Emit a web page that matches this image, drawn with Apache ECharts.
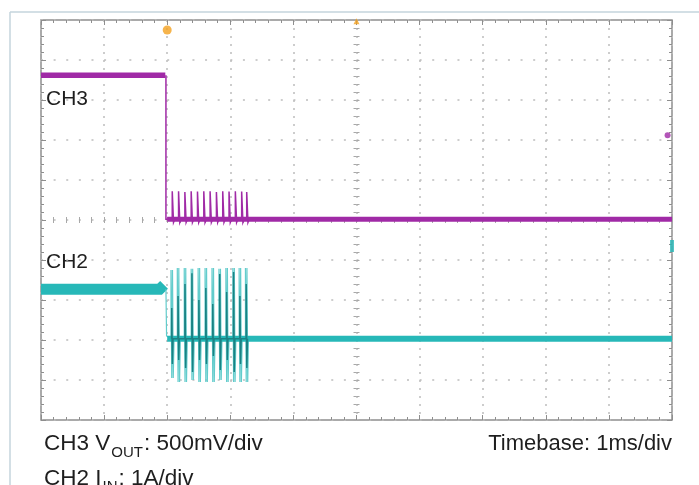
<!DOCTYPE html>
<html><head><meta charset="utf-8">
<script src="https://cdn.jsdelivr.net/npm/echarts@6/dist/echarts.min.js"></script>
<style>html,body{margin:0;padding:0;background:#fff}#c{width:699px;height:485px}</style>
</head><body><div id="c"></div>
<script>
// Time in ms (1 ms/div), amplitude in screen divisions (10 x 10 graticule)
const ch3PreT = [-5, -3.03];
const ch3PreV = [3.62, 3.62];
const ch3PostT = [-3.0, 5];
const ch3PostV = [0.02, 0.02];
const ch3DropT = -3.02;
const ch3SpikeT = [-2.92, -2.82, -2.72, -2.62, -2.52, -2.42, -2.32, -2.22, -2.12, -2.02, -1.92, -1.82, -1.74];
const ch3SpikeV = [0.72, 0.72, 0.70, 0.72, 0.71, 0.72, 0.72, 0.70, 0.72, 0.71, 0.72, 0.71, 0.70];

const ch2PreT = [-5, -3.12, -3.05];
const ch2PreV = [-1.73, -1.73, -1.62];
const ch2PostT = [-3.0, 5];
const ch2PostV = [-2.97, -2.97];
const ch2SpikeT = [-2.94, -2.84, -2.73, -2.62, -2.51, -2.40, -2.29, -2.18, -2.07, -1.96, -1.86, -1.76];
const ch2SpikeHi = [-1.25, -1.2, -1.2, -1.22, -1.2, -1.2, -1.2, -1.22, -1.2, -1.2, -1.2, -1.2];
const ch2SpikeLo = [-3.95, -4.05, -4.05, -4.0, -4.05, -4.05, -4.05, -4.0, -4.05, -4.05, -4.05, -4.05];
const ch2CoreHi = [-2.2, -1.9, -1.6, -1.33, -2.0, -1.7, -2.1, -1.35, -1.8, -1.3, -1.9, -1.6];
const ch2CoreLo = [-3.6, -3.5, -3.7, -3.8, -3.5, -3.6, -3.4, -3.75, -3.5, -3.8, -3.6, -3.7];

const markerTrig = [[-3.0, 4.75]];
const markerTop = [[0, 4.97]];
const markerCh3 = [[4.93, 2.12]];
const markerCh2 = [[5.0, -0.65]];

const PURPLE = '#a02aa6', TEAL = '#27b8b8', TEAL_LIGHT = '#62cccc', TEAL_DARK = '#1a8283';
const FONT = '"Liberation Sans", Arial, Helvetica, sans-serif';

const zip = (t, v) => t.map((x, i) => [x, v[i]]);

// CH3 thin trace: drop + ringing spikes
const ch3Thin = [[ch3DropT, ch3PreV[0]], [ch3DropT, 0.02]];
ch3SpikeT.forEach((t, i) => {
  ch3Thin.push([t, 0.02], [t, ch3SpikeV[i]], [t + 0.02, -0.06], [t + 0.04, 0.02]);
});
// CH2 spikes
const ch2Light = [[ch3DropT, ch2PreV[0]], [ch3DropT + 0.01, -2.9]];
const ch2Dark = [];
ch2SpikeT.forEach((t, i) => {
  ch2Light.push([t, -2.97], [t, ch2SpikeHi[i]], [t + 0.012, ch2SpikeLo[i]], [t + 0.024, ch2SpikeHi[i]], [t + 0.036, ch2SpikeLo[i]], [t + 0.048, -2.97]);
  ch2Dark.push([t + 0.01, -2.97], [t + 0.012, ch2CoreHi[i]], [t + 0.022, ch2CoreLo[i]], [t + 0.032, -2.97]);
});

function lineSeries(data, color, width, z) {
  return { type: 'line', data, symbol: 'none', showSymbol: false, silent: true, animation: false,
    clip: false, z, emphasis: { disabled: true },
    lineStyle: { color, width, cap: 'butt', join: 'miter' } };
}
function scatterSeries(data, symbol, size, color) {
  return { type: 'scatter', data, symbol, symbolSize: size, silent: true, animation: false, clip: false, z: 10,
    itemStyle: { color } };
}

const tickColor = '#8e8e8e';
function axis(pos, o) {
  return Object.assign({
    type: 'value', min: -5, max: 5, interval: 1, position: pos,
    axisLine: { show: false, onZero: false },
    axisTick: { show: true, inside: true, length: 5, lineStyle: { color: tickColor, width: 1 } },
    minorTick: { show: true, splitNumber: 5, length: 3, lineStyle: { color: tickColor, width: 1 } },
    axisLabel: { show: false }, splitLine: { show: false }
  }, o);
}
function centerAxis(pos, inside) {
  return axis(pos, {
    axisLine: { show: false, onZero: true, onZeroAxisIndex: 0 },
    axisTick: { show: true, inside, length: 3, lineStyle: { color: '#a8a8a8', width: 1 } },
    minorTick: { show: true, splitNumber: 5, length: 3, lineStyle: { color: '#a8a8a8', width: 1 } }
  });
}

// caption texts, built from pieces with measured widths
const ctx = document.createElement('canvas').getContext('2d');
function measure(s, size) { ctx.font = size + 'px ' + FONT; return ctx.measureText(s).width; }
function caption(parts, x0, baseline) {
  let x = x0; const els = [];
  parts.forEach(p => {
    const size = p.sub ? 15 : 22.5;
    const base = p.sub ? baseline + 6 : baseline;
    if (p.sub) x += 1;
    els.push({ type: 'text', x, y: base - 0.35 * size, silent: true,
      style: { text: p.t, fontSize: size, fontFamily: FONT, fill: '#1e1e1e', align: 'left', verticalAlign: 'middle' } });
    x += measure(p.t, size) + (p.sub ? 1 : 0);
  });
  return els;
}

const graphic = [
  { type: 'line', silent: true, shape: { x1: 10, y1: 12, x2: 699, y2: 12 }, style: { stroke: '#c4d5dd', lineWidth: 1.5 } },
  { type: 'line', silent: true, shape: { x1: 10, y1: 12, x2: 10, y2: 485 }, style: { stroke: '#c4d5dd', lineWidth: 1.5 } },
  { type: 'text', x: 46, y: 106.5 - 0.35 * 21, silent: true, style: { text: 'CH3', fontSize: 21, fontFamily: FONT, fill: '#1e1e1e', verticalAlign: 'middle' } },
  { type: 'text', x: 46, y: 270 - 0.35 * 21, silent: true, style: { text: 'CH2', fontSize: 21, fontFamily: FONT, fill: '#1e1e1e', verticalAlign: 'middle' } },
  { type: 'text', x: 672, y: 451.5 - 0.35 * 22, silent: true, style: { text: 'Timebase: 1ms/div', fontSize: 22, fontFamily: FONT, fill: '#1e1e1e', align: 'right', verticalAlign: 'middle' } }
].concat(
  caption([{ t: 'CH3 V' }, { t: 'OUT', sub: true }, { t: ': 500mV/div' }], 44, 452),
  caption([{ t: 'CH2 I' }, { t: 'IN', sub: true }, { t: ': 1A/div' }], 44, 486.5)
);

const chart = echarts.init(document.getElementById('c'), null, { renderer: 'canvas' });
chart.setOption({
  backgroundColor: '#ffffff',
  animation: false,
  grid: { left: 41, top: 20, width: 631, height: 400, show: true, borderColor: '#8f8f8f', borderWidth: 1.5,
    backgroundColor: 'transparent', containLabel: false, outerBoundsMode: 'none' },
  xAxis: [
    axis('bottom', { splitLine: { show: true, lineStyle: { color: '#bdbdbd', width: 1.5, type: [2, 6] } } }),
    axis('top', {}),
    centerAxis('bottom', true),
    centerAxis('bottom', false)
  ],
  yAxis: [
    axis('left', { splitLine: { show: true, lineStyle: { color: '#bdbdbd', width: 1.5, type: [2, 10.62] } } }),
    axis('right', {}),
    centerAxis('left', true),
    centerAxis('left', false)
  ],
  series: [
    lineSeries(zip(ch2PreT, ch2PreV), TEAL, 11, 3),
    lineSeries(ch2Light, TEAL_LIGHT, 1.2, 4),
    lineSeries(zip(ch2PostT, ch2PostV), TEAL, 6, 5),
    lineSeries(ch2Dark, TEAL_DARK, 1.5, 6),
    lineSeries(zip(ch3PreT, ch3PreV), PURPLE, 5.5, 3),
    lineSeries(zip(ch3PostT, ch3PostV), PURPLE, 5, 3),
    lineSeries(ch3Thin, PURPLE, 1.5, 4),
    scatterSeries(markerTrig, 'circle', 9, '#f4a11f'),
    scatterSeries(markerTop, 'triangle', 6, '#f4a11f'),
    scatterSeries(markerCh3, 'circle', 6, PURPLE),
    scatterSeries(markerCh2, 'rect', [4, 12], TEAL)
  ],
  graphic
});
</script></body></html>
